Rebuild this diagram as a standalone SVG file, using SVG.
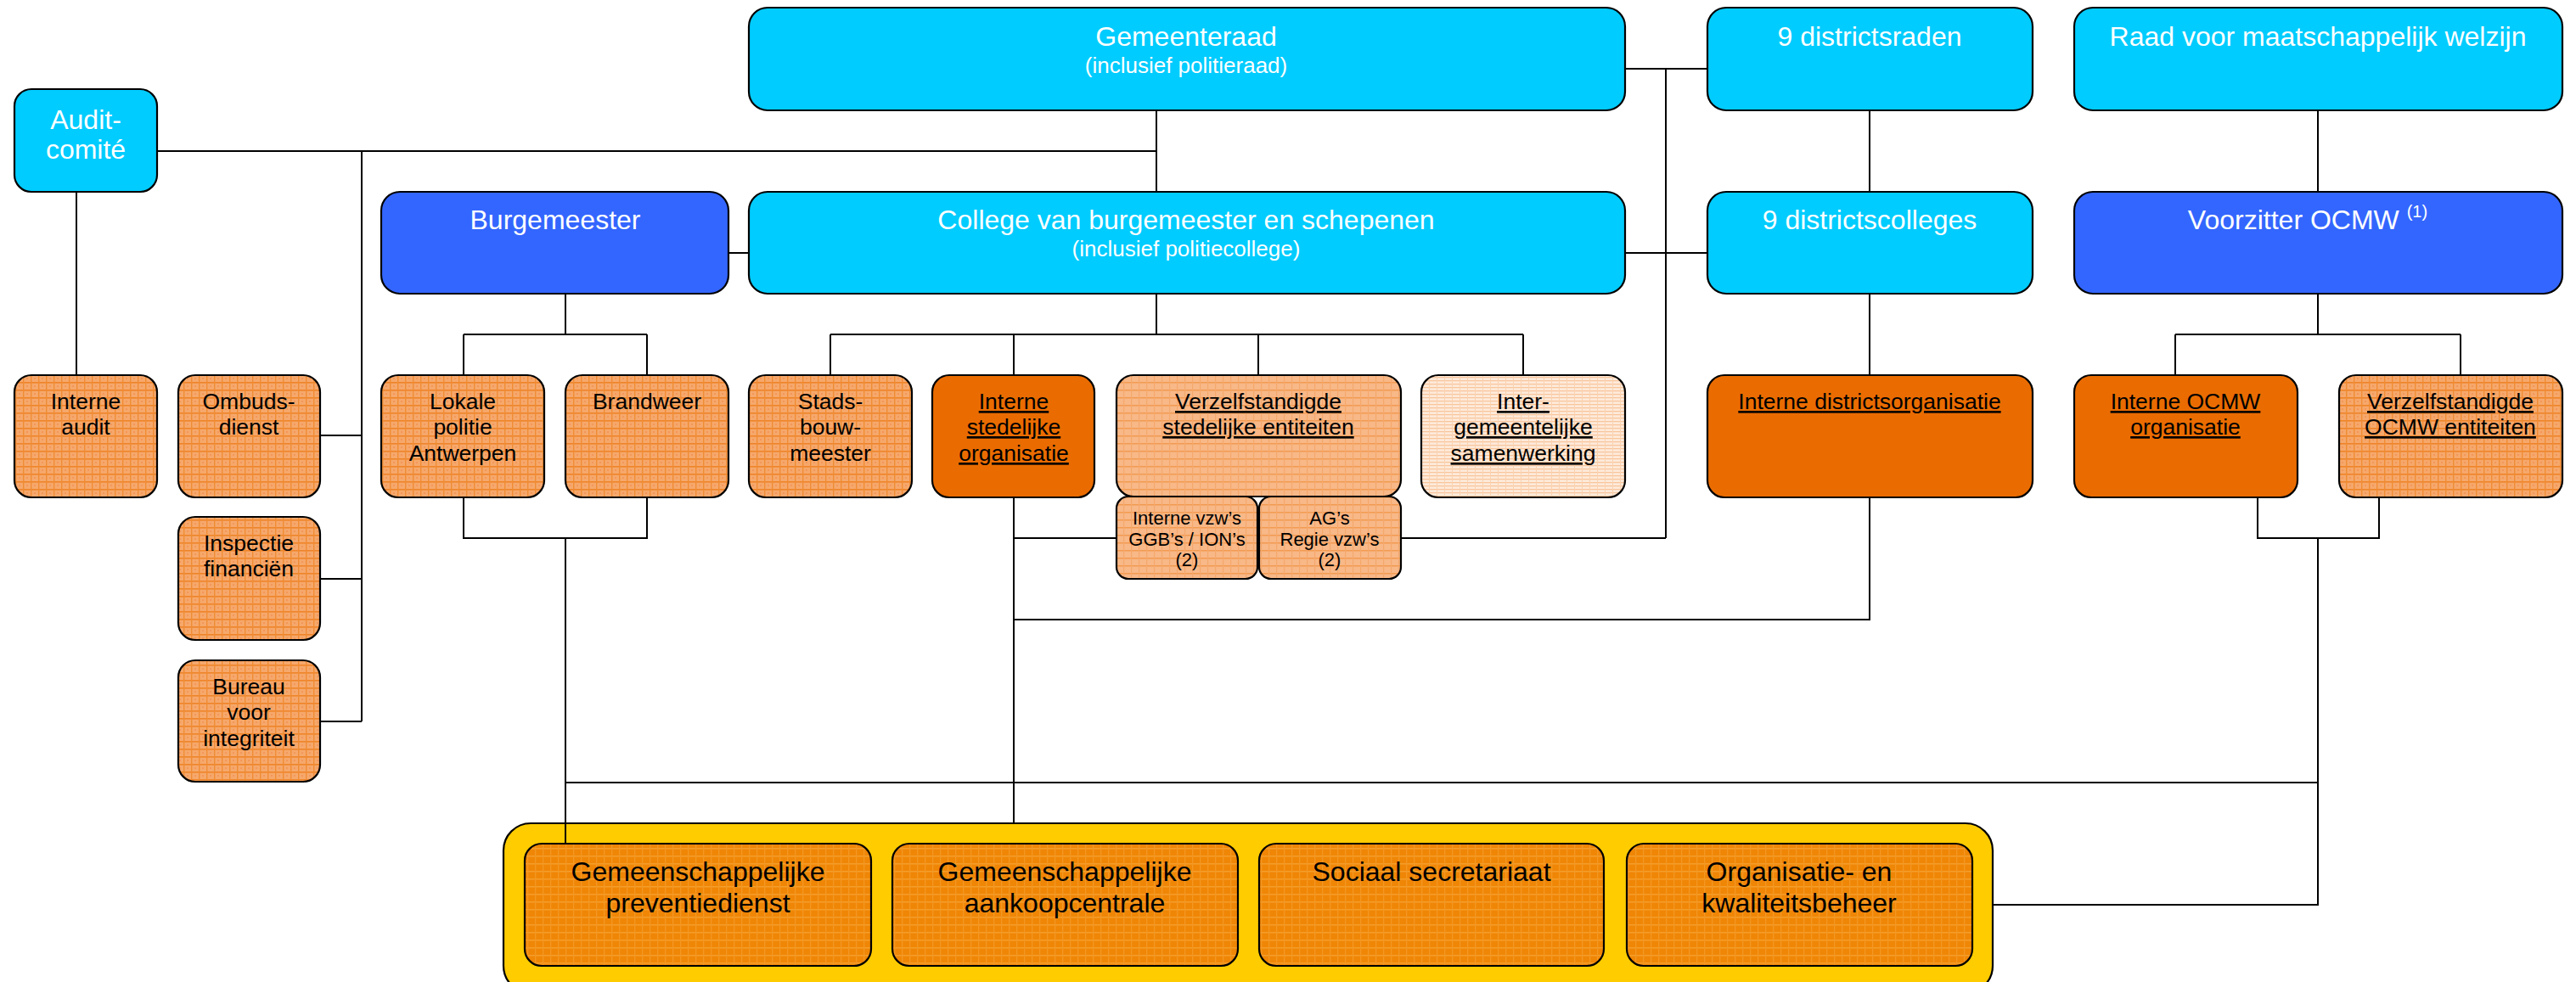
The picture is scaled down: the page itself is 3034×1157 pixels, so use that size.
<svg xmlns="http://www.w3.org/2000/svg" width="3034" height="1157" viewBox="0 0 3034 1157">
<defs>
<pattern id="pA" width="9" height="9" patternUnits="userSpaceOnUse">
<rect width="9" height="9" fill="#F6A86C"/>
<rect x="0" y="0" width="9" height="1.6" fill="#EF8428"/>
<rect x="0" y="0" width="1.4" height="9" fill="#F08C34"/>
<rect x="4" y="4" width="2" height="2" fill="#F3975A"/>
</pattern>
<pattern id="pB" width="9" height="9" patternUnits="userSpaceOnUse">
<rect width="9" height="9" fill="#F8B888"/>
<rect x="0" y="0" width="9" height="1.5" fill="#F29A50"/>
<rect x="0" y="0" width="1.2" height="9" fill="#F5A86C"/>
</pattern>
<pattern id="pC" width="9" height="4" patternUnits="userSpaceOnUse">
<rect width="9" height="4" fill="#FEEADA"/>
<rect x="0" y="0" width="9" height="1.2" fill="#F8C49A"/>
<rect x="0" y="0" width="1" height="4" fill="#FAD3B2"/>
</pattern>
<pattern id="pD" width="9" height="9" patternUnits="userSpaceOnUse">
<rect width="9" height="9" fill="#F08606"/>
<rect x="0" y="0" width="9" height="1.5" fill="#F49E2C"/>
<rect x="0" y="0" width="1.3" height="9" fill="#F39722"/>
</pattern>
</defs>
<style>
.bx{stroke:#000;stroke-width:2.2}
.lb{fill:#00CCFF}
.db{fill:#3366FF}
.or{fill:url(#pA)}
.orB{fill:url(#pB)}
.orC{fill:url(#pC)}
.so{fill:#EA6C00}
.bt{fill:url(#pD)}
.yl{fill:#FFCC00}
text{font-family:"Liberation Sans",Arial,sans-serif;text-anchor:middle}
.tw{fill:#fff;font-size:32px}
.tws{fill:#fff;font-size:26px}
.tk{fill:#000;font-size:26.5px}
.tks{fill:#000;font-size:22px}
.tb{fill:#000;font-size:32px}
.u{text-decoration:underline}
.cn{stroke:#000;stroke-width:2;fill:none}
</style>

<g id="gemeenteraad"><rect class="bx lb" x="882" y="9" width="1032" height="121" rx="22"/><text class="tw" x="1397" y="54">Gemeenteraad</text><text class="tws" x="1397" y="86">(inclusief politieraad)</text></g>
<g id="districtsraden"><rect class="bx lb" x="2011" y="9" width="383" height="121" rx="22"/><text class="tw" x="2202" y="54">9 districtsraden</text></g>
<g id="raad-welzijn"><rect class="bx lb" x="2443" y="9" width="575" height="121" rx="22"/><text class="tw" x="2730" y="54">Raad voor maatschappelijk welzijn</text></g>
<g id="auditcomite"><rect class="bx lb" x="17" y="105" width="168" height="121" rx="20"/><text class="tw" x="101" y="152">Audit-</text><text class="tw" x="101" y="187">comité</text></g>
<g id="burgemeester"><rect class="bx db" x="449" y="226" width="409" height="120" rx="22"/><text class="tw" x="654" y="270">Burgemeester</text></g>
<g id="college"><rect class="bx lb" x="882" y="226" width="1032" height="120" rx="22"/><text class="tw" x="1397" y="270">College van burgemeester en schepenen</text><text class="tws" x="1397" y="302">(inclusief politiecollege)</text></g>
<g id="districtscolleges"><rect class="bx lb" x="2011" y="226" width="383" height="120" rx="22"/><text class="tw" x="2202" y="270">9 districtscolleges</text></g>
<g id="voorzitter-ocmw"><rect class="bx db" x="2443" y="226" width="575" height="120" rx="22"/><text class="tw" x="2718" y="270">Voorzitter OCMW <tspan font-size="20" dy="-14">(1)</tspan></text></g>

<g id="interne-audit"><rect class="bx or" x="17" y="442" width="168" height="144" rx="20"/><text class="tk" x="101" y="482">Interne</text><text class="tk" x="101" y="512">audit</text></g>
<g id="ombudsdienst"><rect class="bx or" x="210" y="442" width="167" height="144" rx="20"/><text class="tk" x="293" y="482">Ombuds-</text><text class="tk" x="293" y="512">dienst</text></g>
<g id="inspectie-financien"><rect class="bx or" x="210" y="609" width="167" height="145" rx="20"/><text class="tk" x="293" y="649">Inspectie</text><text class="tk" x="293" y="679">financiën</text></g>
<g id="bureau-integriteit"><rect class="bx or" x="210" y="778" width="167" height="143" rx="20"/><text class="tk" x="293" y="818">Bureau</text><text class="tk" x="293" y="848">voor</text><text class="tk" x="293" y="879">integriteit</text></g>
<g id="lokale-politie"><rect class="bx or" x="449" y="442" width="192" height="144" rx="20"/><text class="tk" x="545" y="482">Lokale</text><text class="tk" x="545" y="512">politie</text><text class="tk" x="545" y="543">Antwerpen</text></g>
<g id="brandweer"><rect class="bx or" x="666" y="442" width="192" height="144" rx="20"/><text class="tk" x="762" y="482">Brandweer</text></g>
<g id="stadsbouwmeester"><rect class="bx or" x="882" y="442" width="192" height="144" rx="20"/><text class="tk" x="978" y="482">Stads-</text><text class="tk" x="978" y="512">bouw-</text><text class="tk" x="978" y="543">meester</text></g>
<g id="interne-stedelijke"><rect class="bx so" x="1098" y="442" width="191" height="144" rx="20"/><text class="tk u" x="1194" y="482">Interne</text><text class="tk u" x="1194" y="512">stedelijke</text><text class="tk u" x="1194" y="543">organisatie</text></g>
<g id="verzelfstandigde-stedelijk"><rect class="bx orB" x="1315" y="442" width="335" height="143" rx="20"/><text class="tk u" x="1482" y="482">Verzelfstandigde</text><text class="tk u" x="1482" y="512">stedelijke entiteiten</text></g>
<g id="interne-vzw"><rect class="bx orB" x="1315" y="585" width="166" height="97" rx="14"/><text class="tks" x="1398" y="618">Interne vzw’s</text><text class="tks" x="1398" y="643">GGB’s / ION’s</text><text class="tks" x="1398" y="667">(2)</text></g>
<g id="ag-regie"><rect class="bx orB" x="1483" y="585" width="167" height="97" rx="14"/><text class="tks" x="1566" y="618">AG’s</text><text class="tks" x="1566" y="643">Regie vzw’s</text><text class="tks" x="1566" y="667">(2)</text></g>
<g id="intergemeentelijk"><rect class="bx orC" x="1674" y="442" width="240" height="144" rx="20"/><text class="tk u" x="1794" y="482">Inter-</text><text class="tk u" x="1794" y="512">gemeentelijke</text><text class="tk u" x="1794" y="543">samenwerking</text></g>
<g id="interne-district"><rect class="bx so" x="2011" y="442" width="383" height="144" rx="20"/><text class="tk u" x="2202" y="482">Interne districtsorganisatie</text></g>
<g id="interne-ocmw"><rect class="bx so" x="2443" y="442" width="263" height="144" rx="20"/><text class="tk u" x="2574" y="482">Interne OCMW</text><text class="tk u" x="2574" y="512">organisatie</text></g>
<g id="verzelfstandigde-ocmw"><rect class="bx or" x="2755" y="442" width="263" height="144" rx="20"/><text class="tk u" x="2886" y="482">Verzelfstandigde</text><text class="tk u" x="2886" y="512">OCMW entiteiten</text></g>

<g id="gemeenschappelijk"><rect class="bx yl" x="593" y="970" width="1754" height="200" rx="32"/></g>
<g id="preventiedienst"><rect class="bx bt" x="618" y="994" width="408" height="144" rx="20"/><text class="tb" x="822" y="1038">Gemeenschappelijke</text><text class="tb" x="822" y="1075">preventiedienst</text></g>
<g id="aankoopcentrale"><rect class="bx bt" x="1051" y="994" width="407" height="144" rx="20"/><text class="tb" x="1254" y="1038">Gemeenschappelijke</text><text class="tb" x="1254" y="1075">aankoopcentrale</text></g>
<g id="sociaal-secretariaat"><rect class="bx bt" x="1483" y="994" width="406" height="144" rx="20"/><text class="tb" x="1686" y="1038">Sociaal secretariaat</text></g>
<g id="organisatiebeheer"><rect class="bx bt" x="1916" y="994" width="407" height="144" rx="20"/><text class="tb" x="2119" y="1038">Organisatie- en</text><text class="tb" x="2119" y="1075">kwaliteitsbeheer</text></g>

<g id="connectors" class="cn">
<path d="M185 178H1362"/>
<path d="M1362 130V226"/>
<path d="M90 226V442"/>
<path d="M426 178V850"/>
<path d="M377 513H426M377 682H426M377 850H426"/>
<path d="M858 298H882"/>
<path d="M666 346V394M546 394H762M546 394V442M762 394V442"/>
<path d="M1362 346V394M978 394H1794M978 394V442M1194 394V442M1482 394V442M1794 394V442"/>
<path d="M1914 81H2011M1914 298H2011"/>
<path d="M1962 81V634"/>
<path d="M2202 130V226M2202 346V442"/>
<path d="M2730 130V226"/>
<path d="M2730 346V394M2562 394H2898M2562 394V442M2898 394V442"/>
<path d="M546 586V634H762V586M666 634V994"/>
<path d="M1194 586V970"/>
<path d="M1194 634H1315M1650 634H1962"/>
<path d="M1194 730H2202V586"/>
<path d="M2659 586V634H2802V586M2730 634V1066H2347"/>
<path d="M666 922H2730"/>
</g>
</svg>
